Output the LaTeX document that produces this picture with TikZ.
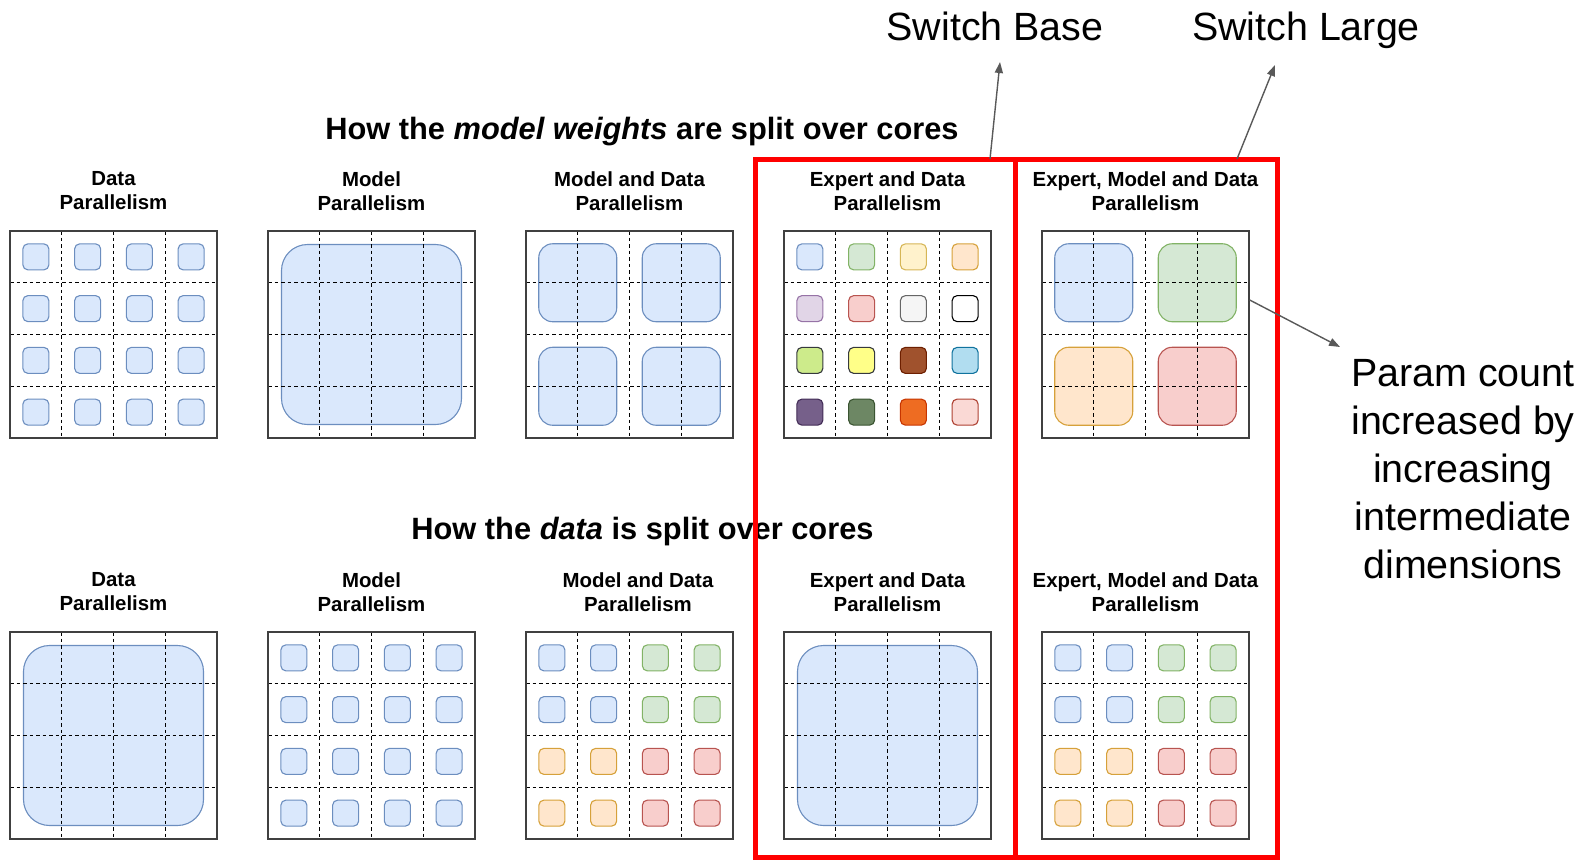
\documentclass[tikz,border=0pt]{standalone}
\usepackage{fontspec}
\setmainfont{Liberation Sans}
\usetikzlibrary{arrows.meta}

% drawio palette: fill F, stroke D
\definecolor{blueF}{HTML}{DAE8FC}\definecolor{blueD}{HTML}{6C8EBF}
\definecolor{greenF}{HTML}{D5E8D4}\definecolor{greenD}{HTML}{82B366}
\definecolor{yellowF}{HTML}{FFF2CC}\definecolor{yellowD}{HTML}{D6B656}
\definecolor{orangeF}{HTML}{FFE6CC}\definecolor{orangeD}{HTML}{D6A13A}
\definecolor{purpleF}{HTML}{E1D5E7}\definecolor{purpleD}{HTML}{9673A6}
\definecolor{redF}{HTML}{F8CECC}\definecolor{redD}{HTML}{B85450}
\definecolor{grayF}{HTML}{F5F5F5}\definecolor{grayD}{HTML}{666666}
\definecolor{whiteF}{HTML}{FFFFFF}\definecolor{whiteD}{HTML}{000000}
\definecolor{limeF}{HTML}{CDEB8B}\definecolor{limeD}{HTML}{36393D}
\definecolor{lemonF}{HTML}{FFFF88}\definecolor{lemonD}{HTML}{36393D}
\definecolor{brownF}{HTML}{A0522D}\definecolor{brownD}{HTML}{6D1F00}
\definecolor{tealF}{HTML}{B1DDF0}\definecolor{tealD}{HTML}{10739E}
\definecolor{plumF}{HTML}{76608A}\definecolor{plumD}{HTML}{432D57}
\definecolor{mossF}{HTML}{6D8764}\definecolor{mossD}{HTML}{3A5431}
\definecolor{tangF}{HTML}{EE6C22}\definecolor{tangD}{HTML}{C73500}
\definecolor{roseF}{HTML}{FAD9D5}\definecolor{roseD}{HTML}{AE4132}
\definecolor{switchred}{HTML}{FF0000}

\tikzset{
  chip/.style={draw=#1D, fill=#1F, line width=1.1pt, rounded corners=5pt,
    minimum size=26pt, inner sep=0pt},
  block/.style={chip=#1, minimum size=78pt, rounded corners=14pt},
  slab/.style={chip=#1, minimum size=180pt, rounded corners=26pt},
  gridframe/.style={draw=black!75, line width=1.4pt, minimum size=207pt, inner sep=0pt},
  cellsep/.style={line width=0.9pt, dash pattern=on 3.5pt off 3pt},
  heading/.style={font=\fontsize{30.8}{36}\selectfont\bfseries, inner sep=0pt},
  title/.style={font=\fontsize{20.4}{24}\selectfont\bfseries, align=center, inner sep=0pt},
  callout/.style={font=\fontsize{39.4}{48}\selectfont, align=center, inner sep=0pt},
  switchbox/.style={draw=switchred, line width=5pt},
  pointer/.style={draw=black!65, line width=1.4pt, -{Triangle[length=11pt,width=8pt]}}
}

% dashed cell lines + frame, top-left corner at (#2,#3)
\newcommand{\coregrid}[3]{%
  \foreach \k in {1,2,3} {
    \draw[cellsep] (#2+\k*51.75,#3) -- (#2+\k*51.75,#3+207);
    \draw[cellsep] (#2,#3+\k*51.75) -- (#2+207,#3+\k*51.75);
  }
  \node[gridframe] (#1) at (#2+103.5,#3+103.5) {};
}
% 16 chips, one colour
\newcommand{\allchips}[4]{%
  \foreach \gr in {0,...,3} \foreach \gc in {0,...,3}
    \node[chip=#4] (#1-\gr\gc) at (#2+25.875+\gc*51.75,#3+25.875+\gr*51.75) {};
}
% 16 chips, colour list row by row
\newcommand{\chips}[4]{%
  \foreach \c [count=\i from 0] in {#4} {
    \pgfmathtruncatemacro\gr{floor(\i/4)}
    \pgfmathtruncatemacro\gc{mod(\i,4)}
    \node[chip=\c] (#1-\i) at (#2+25.875+\gc*51.75,#3+25.875+\gr*51.75) {};
  }
}
% 4 blocks of 2x2 cells
\newcommand{\blocks}[4]{%
  \foreach \c [count=\i from 0] in {#4} {
    \pgfmathtruncatemacro\gr{floor(\i/2)}
    \pgfmathtruncatemacro\gc{mod(\i,2)}
    \node[block=\c] (#1-\i) at (#2+51.75+\gc*103.5,#3+51.75+\gr*103.5) {};
  }
}

\begin{document}
\begin{tikzpicture}[x=1pt,y=-1pt]
\useasboundingbox (0,0) rectangle (1581,859);

% headings
\node[heading] (hw) at (642,132) {How the \textit{model weights} are split over cores};
\node[heading] (hd) at (642.5,532) {How the \textit{data} is split over cores};

% weights row
\node[title] (tw1) at (113.5,191) {Data\\Parallelism};
\node[title] (tw2) at (371.5,191) {Model\\Parallelism};
\node[title] (tw3) at (629.5,191) {Model and Data\\Parallelism};
\node[title] (tw4) at (887.5,191) {Expert and Data\\Parallelism};
\node[title] (tw5) at (1145.5,191) {Expert, Model and Data\\Parallelism};

\allchips{cw1}{10}{231}{blue}
\coregrid{w1}{10}{231}
\node[slab=blue] (cw2) at (371.5,334.5) {};
\coregrid{w2}{268}{231}
\blocks{cw3}{526}{231}{blue,blue,blue,blue}
\coregrid{w3}{526}{231}
\chips{cw4}{784}{231}{blue,green,yellow,orange,purple,red,gray,white,
  lime,lemon,brown,teal,plum,moss,tang,rose}
\coregrid{w4}{784}{231}
\blocks{cw5}{1042}{231}{blue,green,orange,red}
\coregrid{w5}{1042}{231}

% data row
\node[title] (td1) at (113.5,592) {Data\\Parallelism};
\node[title] (td2) at (371.5,592) {Model\\Parallelism};
\node[title] (td3) at (638,592) {Model and Data\\Parallelism};
\node[title] (td4) at (887.5,592) {Expert and Data\\Parallelism};
\node[title] (td5) at (1145.5,592) {Expert, Model and Data\\Parallelism};

\node[slab=blue] (cd1) at (113.5,735.5) {};
\coregrid{d1}{10}{632}
\allchips{cd2}{268}{632}{blue}
\coregrid{d2}{268}{632}
\chips{cd3}{526}{632}{blue,blue,green,green,blue,blue,green,green,
  orange,orange,red,red,orange,orange,red,red}
\coregrid{d3}{526}{632}
\node[slab=blue] (cd4) at (887.5,735.5) {};
\coregrid{d4}{784}{632}
\chips{cd5}{1042}{632}{blue,blue,green,green,blue,blue,green,green,
  orange,orange,red,red,orange,orange,red,red}
\coregrid{d5}{1042}{632}

% switch models
\node[switchbox, minimum width=260pt, minimum height=698pt] (base) at (885,508) {};
\node[switchbox, minimum width=262pt, minimum height=698pt] (large) at (1146,508) {};

\node[callout, anchor=base] (sb) at (995,41) {Switch Base};
\node[callout, anchor=base] (sl) at (1306,41) {Switch Large};
\node[callout] (pc) at (1463,469) {Param count\\increased by\\increasing\\intermediate\\dimensions};

\coordinate (sbfrom) at (990,159);
\coordinate (sbto) at (1000,62);
\coordinate (slfrom) at (1237,159);
\coordinate (slto) at (1275,65);
\coordinate (pcfrom) at ([yshift=34.5pt]w5.east);
\coordinate (pcto) at (1340,347);
\draw[pointer] (sbfrom) -- (sbto);
\draw[pointer] (slfrom) -- (slto);
\draw[pointer] (pcfrom) -- (pcto);
\end{tikzpicture}
\end{document}
